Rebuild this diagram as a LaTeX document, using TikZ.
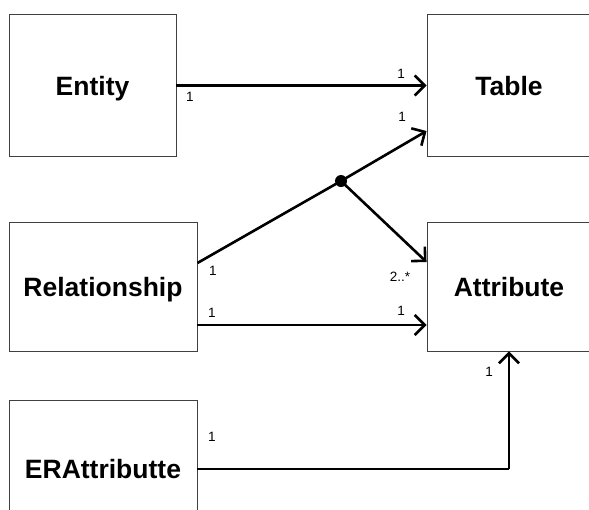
\documentclass[tikz,border=0pt]{standalone}
\usepackage{fontspec}
\setmainfont{Liberation Sans}
\usetikzlibrary{arrows.meta,calc}
\begin{document}
\begin{tikzpicture}[x=1pt,y=-1pt,
  box/.style={draw=black!75,line width=0.9pt,rectangle,inner sep=0pt,text height=19pt,text depth=0pt,font=\fontsize{26.5}{30}\selectfont\bfseries},
  conn/.style={line width=2.6pt,line cap=butt,line join=miter},
  arr/.style={conn,-{Straight Barb[length=10pt,width=20pt,line width=2.6pt]}},
  mult/.style={font=\fontsize{13.5}{16}\selectfont,inner sep=0pt}]
\useasboundingbox (0,0) rectangle (589,509);
\fill[white] (0,0) rectangle (589,509);
\begin{scope}
\clip (0,0) rectangle (589,509);
\node[box,minimum width=167pt,minimum height=142pt] (entity) at (92.5,85.5) {Entity};
\node[box,minimum width=164pt,minimum height=142pt] (table) at (509,85.5) {Table};
\node[box,minimum width=188pt,minimum height=129pt] (rel) at (103,286.5) {Relationship};
\node[box,minimum width=164pt,minimum height=129pt] (attr) at (509,286.5) {Attribute};
\node[box,minimum width=188pt,minimum height=138pt] (era) at (103,469) {ERAttributte};
\end{scope}
\node[circle,fill=black,inner sep=0pt,minimum size=12pt] (dot) at (341,181) {};
\draw[arr] (entity.east) -- (table.west);
\draw[conn] ([yshift=23.5pt]rel.east) -- (dot.center);
\draw[arr] (dot.center) -- ([yshift=-45.5pt]table.west);
\draw[arr] (dot.center) -- ([yshift=24.5pt]attr.west);
\draw[arr] ([yshift=-38.5pt]rel.east) -- ([yshift=-38.5pt]attr.west);
\coordinate (bend) at (attr.south |- era.east);
\draw[conn] (era.east) -- (bend);
\draw[arr] (bend) -- (attr.south);
\node[mult] (m1) at (190,97) {1};
\node[mult] (m2) at (401,74) {1};
\node[mult] (m3) at (402,117) {1};
\node[mult] (m4) at (213,271) {1};
\node[mult] (m5) at (400,277) {2..*};
\node[mult] (m6) at (212,313) {1};
\node[mult] (m7) at (401,311) {1};
\node[mult] (m8) at (489,372) {1};
\node[mult] (m9) at (212,437) {1};
\end{tikzpicture}
\end{document}
